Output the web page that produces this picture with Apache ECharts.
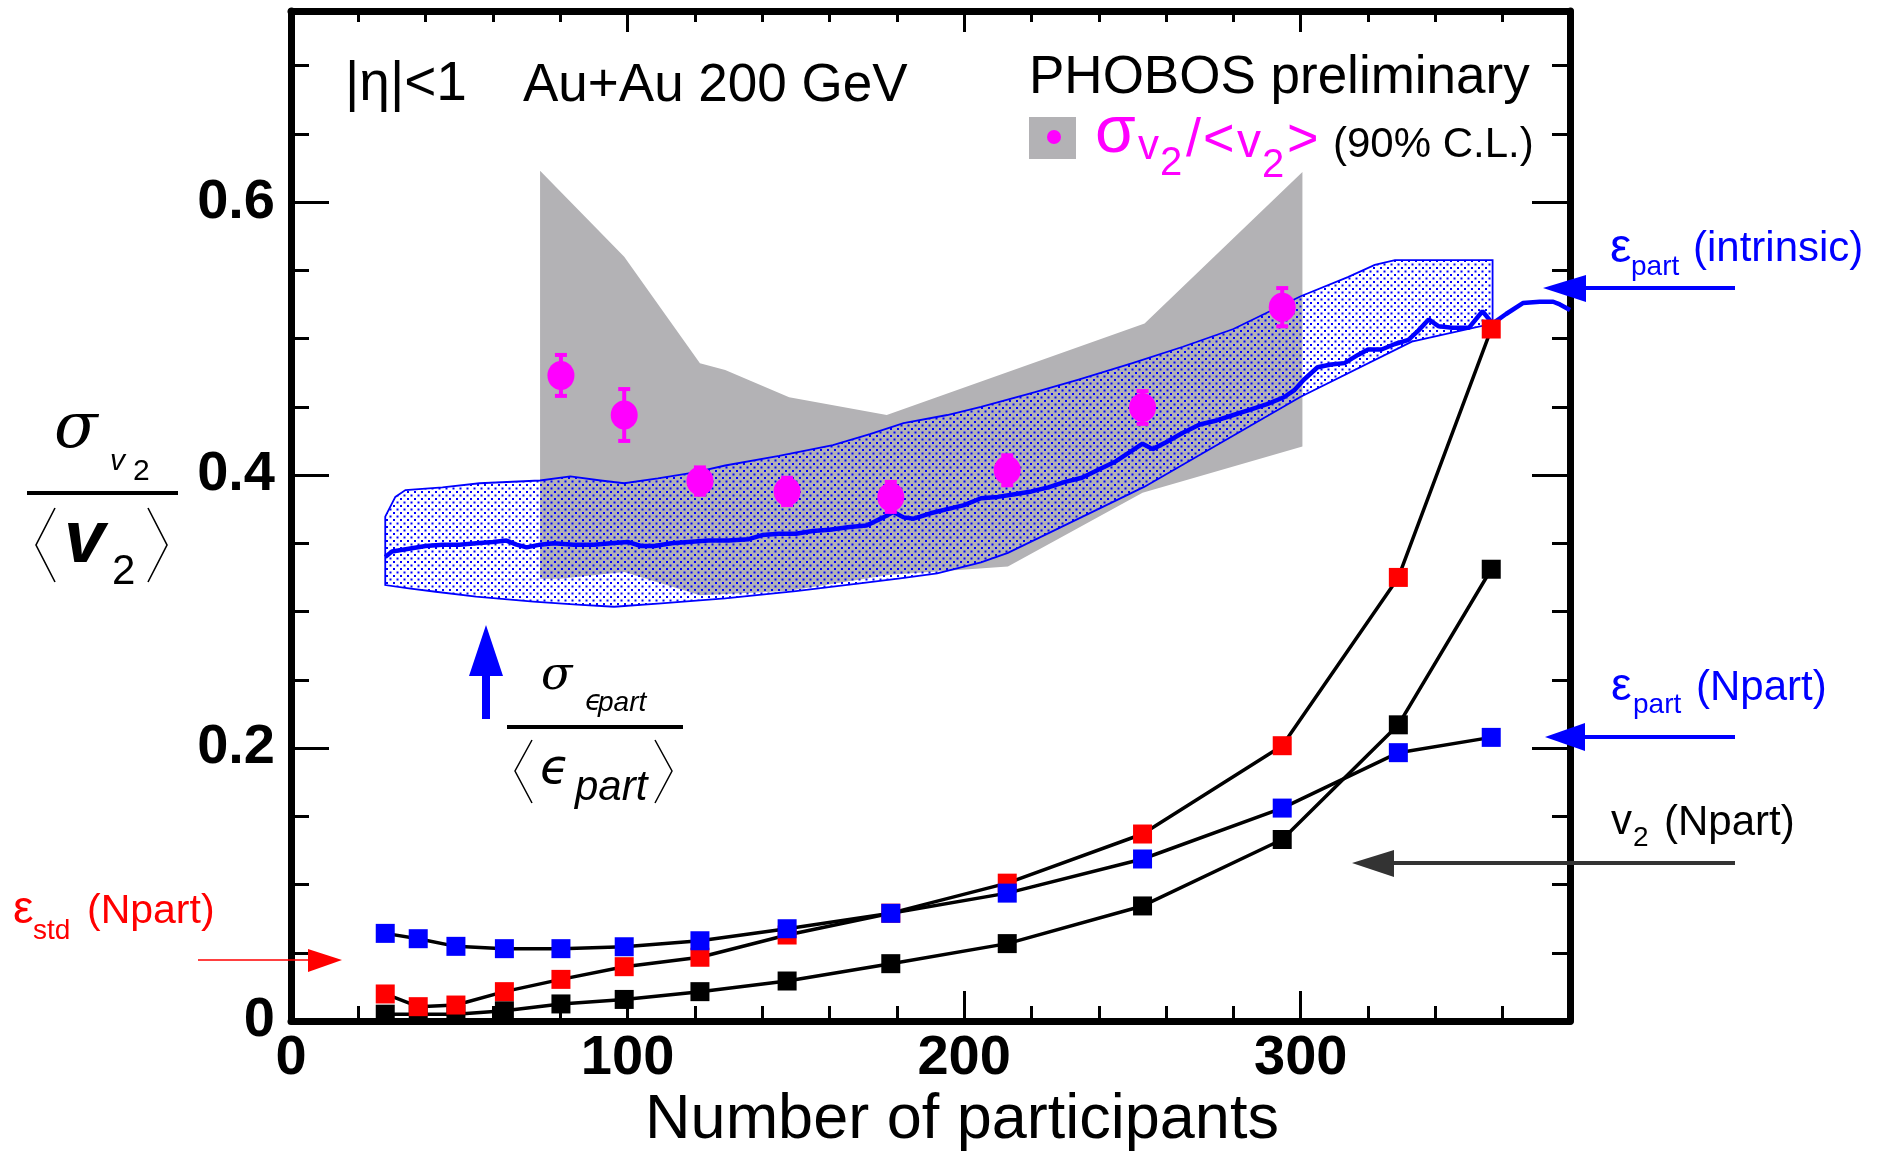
<!DOCTYPE html>
<html>
<head>
<meta charset="utf-8">
<script src="https://cdn.jsdelivr.net/npm/echarts@6/dist/echarts.min.js"></script>
<style>
  html, body { margin: 0; padding: 0; background: #fff; }
  #chart { width: 1886px; height: 1154px; }
</style>
</head>
<body>
<div id="chart"></div>
<script>
// Centrality bins: mean number of participants
const npart = [28, 37.8, 49, 63.4, 80.2, 99, 121.5, 147.4, 178.2, 212.8, 253, 294.5, 329, 356.6];
// Relative fluctuations per bin
const epsStdRel  = [0.0198, 0.0105, 0.0117, 0.0215, 0.0305, 0.0398, 0.0467, 0.063, 0.079, 0.101, 0.137, 0.2017, 0.325, 0.507];
const epsPartRel = [0.0642, 0.0603, 0.0547, 0.053, 0.053, 0.0544, 0.0588, 0.0676, 0.0789, 0.0937, 0.1187, 0.156, 0.1966, 0.2078];
const v2Rel      = [0.005, 0.005, 0.005, 0.0075, 0.0125, 0.0158, 0.0215, 0.0293, 0.042, 0.0567, 0.0843, 0.133, 0.217, 0.331];

// Measured sigma(v2)/<v2>
const measNpart = [80.2, 99, 121.5, 147.4, 178.2, 212.8, 253, 294.5];
const measRel   = [0.473, 0.444, 0.3956, 0.388, 0.384, 0.4035, 0.4495, 0.523];
const measErr   = [0.015, 0.019, 0.010, 0.010, 0.011, 0.011, 0.012, 0.014];

// 90% C.L. band
const clUpperX = [74, 99, 121.5, 129, 148, 177, 253.6, 300.5];
const clUpperY = [0.623, 0.560, 0.482, 0.477, 0.457, 0.444, 0.511, 0.622];
const clLowerX = [74, 80, 99, 121.5, 147.5, 178, 213, 253, 300.5];
const clLowerY = [0.324, 0.324, 0.329, 0.312, 0.315, 0.327, 0.333, 0.387, 0.421];

// Intrinsic participant eccentricity fluctuations: band edges
const intrUpperX = [28, 31, 34, 45, 56, 74, 83, 92, 99, 109, 120, 129, 145, 161, 172, 182, 195, 205, 220, 234, 250, 265, 280, 300, 314, 322, 328, 357];
const intrUpperY = [0.3695, 0.384, 0.389, 0.391, 0.394, 0.396, 0.399, 0.396, 0.394, 0.3975, 0.402, 0.407, 0.414, 0.422, 0.430, 0.438, 0.444, 0.450, 0.460, 0.470, 0.482, 0.494, 0.507, 0.531, 0.545, 0.554, 0.5575, 0.5575];
const intrLowerX = [28, 35, 43, 55, 72, 85, 96, 110, 129, 150, 169, 181, 192, 205, 213, 253.6, 300, 333, 357];
const intrLowerY = [0.3194, 0.317, 0.3145, 0.311, 0.3072, 0.305, 0.3035, 0.306, 0.3097, 0.315, 0.3207, 0.3243, 0.328, 0.336, 0.343, 0.3915, 0.4574, 0.4977, 0.511];
// Intrinsic participant eccentricity fluctuations: central curve
const intrX = [28, 30, 35, 40, 45, 50, 55, 60, 64, 67, 70, 74, 78, 84, 90, 95, 100, 104, 108, 113, 118, 124, 130, 136, 140, 145, 150, 155, 160, 166, 171, 176, 179, 182, 185, 190, 195, 200, 205, 210, 215, 220, 225, 230, 235, 240, 245, 250, 253, 256, 260, 265, 270, 275, 280, 285, 290, 295, 298, 301, 305, 309, 313, 317, 320, 324, 328, 332, 335, 338, 341, 345, 350, 354, 357, 361, 366, 371, 375, 377, 380];
const intrY = [0.340, 0.344, 0.346, 0.348, 0.349, 0.349, 0.350, 0.351, 0.352, 0.349, 0.347, 0.349, 0.350, 0.349, 0.349, 0.350, 0.351, 0.348, 0.348, 0.350, 0.351, 0.352, 0.352, 0.353, 0.356, 0.357, 0.357, 0.359, 0.360, 0.362, 0.363, 0.369, 0.373, 0.369, 0.368, 0.372, 0.375, 0.378, 0.383, 0.384, 0.386, 0.388, 0.391, 0.395, 0.398, 0.404, 0.410, 0.418, 0.423, 0.419, 0.424, 0.431, 0.437, 0.440, 0.444, 0.448, 0.452, 0.457, 0.462, 0.470, 0.479, 0.481, 0.482, 0.488, 0.492, 0.492, 0.496, 0.499, 0.506, 0.514, 0.509, 0.508, 0.508, 0.520, 0.511, 0.518, 0.526, 0.527, 0.527, 0.525, 0.521];

const X_MAX = 380, Y_MAX = 0.74;
const FONT = '"Liberation Sans", Arial, sans-serif';
const SERIF = '"DejaVu Serif", serif';

// dotted fill used for the intrinsic band
const dotTile = document.createElement('canvas');
dotTile.width = 7; dotTile.height = 7;
(function () {
  const g = dotTile.getContext('2d');
  g.fillStyle = '#0000ff';
  g.fillRect(1, 1, 2, 2);
  g.fillRect(4.5, 4.5, 2, 2);
})();

function zip(xs, ys) { return xs.map((x, i) => [x, ys[i]]); }

function polygonSeries(xs, ys, style, z) {
  return {
    type: 'custom', z: z, silent: true, clip: true,
    xAxisIndex: 0, yAxisIndex: 0,
    data: [[xs[0], ys[0]]],
    encode: { x: 0, y: 1 },
    renderItem: function (params, api) {
      const pts = xs.map((x, i) => api.coord([x, ys[i]]));
      return { type: 'polygon', shape: { points: pts }, style: style };
    }
  };
}

// text placed by its baseline
function txt(text, x, base, size, o) {
  o = o || {};
  const fam = o.family || FONT;
  const k = o.k || 0.3465;
  return {
    type: 'text', x: x, y: base - k * size, z: 100, silent: true,
    style: {
      text: text,
      font: (o.italic ? 'italic ' : '') + (o.bold ? 'bold ' : '') + size + 'px ' + fam,
      fill: o.color || '#000',
      align: o.align || 'left', textAlign: o.align || 'left',
      verticalAlign: 'middle', textVerticalAlign: 'middle'
    }
  };
}
function seg(x1, y1, x2, y2, w, c) {
  return { type: 'line', z: 100, silent: true, shape: { x1: x1, y1: y1, x2: x2, y2: y2 }, style: { stroke: c, lineWidth: w } };
}
function tri(p, c) {
  return { type: 'polygon', z: 100, silent: true, shape: { points: p }, style: { fill: c } };
}
function bracket(pts, w) {
  return { type: 'polyline', z: 100, silent: true, shape: { points: pts }, style: { stroke: '#000', lineWidth: w, fill: null } };
}

const chart = echarts.init(document.getElementById('chart'), null, { renderer: 'canvas' });

const tickStyle = { color: '#000', width: 3 };
function xAx(pos, interval, tickLen, main) {
  return {
    type: 'value', position: pos, min: 0, max: X_MAX, interval: interval,
    axisLine: { show: main, onZero: false, lineStyle: { color: '#000', width: 7 } },
    axisTick: { show: true, inside: true, length: tickLen, lineStyle: tickStyle },
    axisLabel: (pos === 'bottom' && main) ? {
      show: true, margin: 10, color: '#000', fontSize: 56, fontWeight: 'bold', fontFamily: FONT,
      formatter: v => (v % 100 === 0 ? String(v) : '')
    } : { show: false },
    splitLine: { show: false }
  };
}
function yAx(pos, interval, tickLen, main) {
  return {
    type: 'value', position: pos, min: 0, max: Y_MAX, interval: interval,
    axisLine: { show: main, onZero: false, lineStyle: { color: '#000', width: 7 } },
    axisTick: { show: true, inside: true, length: tickLen, lineStyle: tickStyle },
    axisLabel: (pos === 'left' && main) ? {
      show: true, margin: 16, color: '#000', fontSize: 56, fontWeight: 'bold', fontFamily: FONT,
      padding: [12, 0, 0, 0],
      formatter: v => (Math.abs(v - Y_MAX) < 1e-6 ? '' : (v === 0 ? '0' : v.toFixed(1)))
    } : { show: false },
    splitLine: { show: false }
  };
}

function squares(vals, color, z) {
  return {
    type: 'line', z: z, data: zip(npart, vals), xAxisIndex: 0, yAxisIndex: 0,
    symbol: 'rect', symbolSize: 19, showAllSymbol: true,
    lineStyle: { color: '#000', width: 3.5 },
    itemStyle: { color: color, borderWidth: 0, opacity: 1 },
    emphasis: { disabled: true }
  };
}

const option = {
  animation: false,
  backgroundColor: '#fff',
  grid: { left: 291, top: 11, width: 1279, height: 1010, containLabel: false },
  xAxis: [
    xAx('bottom', 100, 30, true),
    xAx('bottom', 20, 15, false),
    xAx('top', 100, 21, true),
    xAx('top', 20, 11, false)
  ],
  yAxis: [
    yAx('left', 0.2, 38, true),
    yAx('left', 0.05, 18, false),
    yAx('right', 0.2, 38, true),
    yAx('right', 0.05, 18, false)
  ],
  series: [
    // 90% C.L. band
    polygonSeries(clUpperX.concat(clLowerX.slice().reverse()),
                  clUpperY.concat(clLowerY.slice().reverse()),
                  { fill: '#b3b2b5' }, 1),
    // intrinsic eccentricity band
    polygonSeries(intrUpperX.concat(intrLowerX.slice().reverse()),
                  intrUpperY.concat(intrLowerY.slice().reverse()),
                  { fill: { image: dotTile, repeat: 'repeat' }, stroke: '#0000ff', lineWidth: 1.8 }, 2),
    {
      type: 'line', z: 3, data: zip(intrX, intrY), symbol: 'none',
      lineStyle: { color: '#0000ff', width: 4.5 }, emphasis: { disabled: true }
    },
    // measured points: error bars then markers
    {
      type: 'custom', z: 4, silent: true,
      data: measNpart.map((x, i) => [x, measRel[i], measErr[i]]),
      encode: { x: 0, y: 1 },
      renderItem: function (params, api) {
        const x = api.value(0), y = api.value(1), e = api.value(2);
        const t = api.coord([x, y + e]), b = api.coord([x, y - e]);
        const c = '#ff00ff', cw = 6;
        return { type: 'group', children: [
          { type: 'line', shape: { x1: t[0], y1: t[1], x2: b[0], y2: b[1] }, style: { stroke: c, lineWidth: 4 } },
          { type: 'line', shape: { x1: t[0] - cw, y1: t[1], x2: t[0] + cw, y2: t[1] }, style: { stroke: c, lineWidth: 4 } },
          { type: 'line', shape: { x1: b[0] - cw, y1: b[1], x2: b[0] + cw, y2: b[1] }, style: { stroke: c, lineWidth: 4 } }
        ] };
      }
    },
    {
      type: 'scatter', z: 5, data: zip(measNpart, measRel),
      symbol: 'circle', symbolSize: [27, 29],
      itemStyle: { color: '#ff00ff', opacity: 1 }, emphasis: { disabled: true }
    },
    squares(v2Rel, '#000000', 6),
    squares(epsStdRel, '#ff0000', 7),
    squares(epsPartRel, '#0000ff', 8)
  ],
  graphic: [
    // header texts
    txt('|\u03b7|<1', 345, 104, 55),
    txt('Au+Au 200 GeV', 523, 105, 53),
    txt('PHOBOS preliminary', 1029, 97, 53),
    // legend entry
    { type: 'rect', z: 100, shape: { x: 1029, y: 117, width: 47, height: 42 }, style: { fill: '#b3b2b5' } },
    { type: 'circle', z: 101, shape: { cx: 1054, cy: 137, r: 7 }, style: { fill: '#ff00ff' } },
    txt('\u03c3', 1095, 157, 66, { color: '#ff00ff' }),
    txt('v', 1138, 162, 42, { color: '#ff00ff' }),
    txt('2', 1160, 178, 40, { color: '#ff00ff' }),
    txt('/', 1186, 160, 54, { color: '#ff00ff' }),
    txt('<', 1203, 160, 54, { color: '#ff00ff' }),
    txt('v', 1237, 160, 48, { color: '#ff00ff' }),
    txt('2', 1262, 180, 40, { color: '#ff00ff' }),
    txt('>', 1287, 160, 54, { color: '#ff00ff' }),
    txt('(90% C.L.)', 1333, 160, 42),

    // y-axis title: sigma_v2 / <v2>
    txt('\u03c3', 54, 453, 64, { italic: true, family: SERIF }),
    txt('v', 110, 472, 30, { italic: true }),
    txt('2', 133, 482, 30),
    { type: 'rect', z: 100, shape: { x: 27, y: 491, width: 151, height: 4 }, style: { fill: '#000' } },
    bracket([[55, 508], [36, 545], [55, 582]], 1.6),
    bracket([[148, 508], [167, 545], [148, 582]], 1.6),
    txt('v', 64, 567, 74, { italic: true, bold: true }),
    txt('2', 112, 587, 42),

    // eccentricity ratio label with arrow
    { type: 'rect', z: 100, shape: { x: 482, y: 674, width: 8, height: 45 }, style: { fill: '#0000ff' } },
    tri([[486, 625], [469, 676], [503, 676]], '#0000ff'),
    txt('\u03c3', 541, 693, 46, { italic: true, family: SERIF }),
    txt('\u03f5', 585, 712, 28, { italic: true, family: '"DejaVu Sans", sans-serif' }),
    txt('part', 598, 713, 28, { italic: true }),
    { type: 'rect', z: 100, shape: { x: 507, y: 725, width: 176, height: 4 }, style: { fill: '#000' } },
    bracket([[532, 740], [515, 771], [532, 803]], 1.5),
    bracket([[655, 740], [672, 771], [655, 803]], 1.5),
    txt('\u03f5', 540, 787, 48, { italic: true, family: '"DejaVu Sans", sans-serif' }),
    txt('part', 575, 803, 42, { italic: true }),

    // right-hand annotations
    txt('\u03b5', 1610, 265, 48, { color: '#0000ff' }),
    txt('part', 1631, 277, 28, { color: '#0000ff' }),
    txt('(intrinsic)', 1693, 264, 42, { color: '#0000ff' }),
    seg(1584, 288, 1735, 288, 4, '#0000ff'),
    tri([[1543, 288], [1586, 275], [1586, 302]], '#0000ff'),

    txt('\u03b5', 1611, 703, 46, { color: '#0000ff' }),
    txt('part', 1633, 715, 28, { color: '#0000ff' }),
    txt('(Npart)', 1696, 703, 42, { color: '#0000ff' }),
    seg(1583, 737, 1735, 737, 4, '#0000ff'),
    tri([[1545, 737], [1585, 723], [1585, 751]], '#0000ff'),

    txt('v', 1611, 837, 42),
    txt('2', 1633, 848, 28),
    txt('(Npart)', 1664, 838, 42),
    seg(1392, 863, 1735, 863, 4, '#333333'),
    tri([[1352, 863], [1394, 850], [1394, 877]], '#333333'),

    txt('\u03b5', 13, 926, 46, { color: '#ff0000' }),
    txt('std', 33, 941, 28, { color: '#ff0000' }),
    txt('(Npart)', 87, 926, 41, { color: '#ff0000' }),
    seg(198, 960, 310, 960, 1.5, '#ff0000'),
    tri([[342, 960], [308, 949], [308, 972]], '#ff0000'),

    // x-axis title
    txt('Number of participants', 962, 1142, 63, { align: 'center' })
  ]
};

chart.setOption(option);
</script>
</body>
</html>
